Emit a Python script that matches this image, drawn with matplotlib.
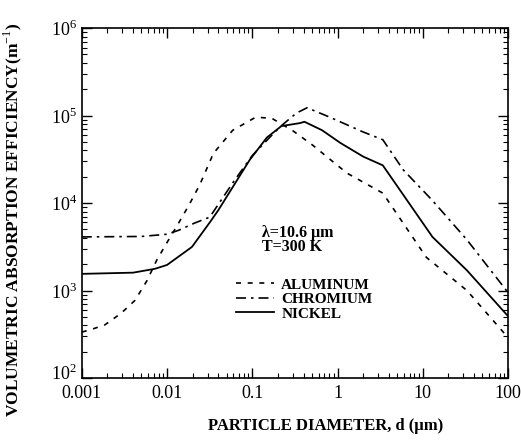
import numpy as np
import matplotlib.pyplot as plt
from matplotlib.ticker import LogLocator, NullFormatter, FixedLocator, FixedFormatter
from matplotlib.transforms import ScaledTranslation

plt.rcParams['font.family'] = ['Liberation Serif', 'DejaVu Serif']
plt.rcParams['mathtext.fontset'] = 'custom'
plt.rcParams['mathtext.rm'] = 'Liberation Serif'

# particle diameter (um) and volumetric absorption efficiency (1/m)
al_d = [0.001, 0.00124, 0.00186, 0.0029, 0.0042, 0.0058, 0.0076, 0.010, 0.0138, 0.018, 0.0243, 0.035, 0.059, 0.11, 0.17, 0.30, 0.51, 1.29, 3.4, 11, 33, 100]
al_v = [335, 354, 404, 550, 770, 1290, 2240, 3540, 6000, 9400, 16300, 37000, 68000, 96000, 93000, 67000, 46000, 22000, 13000, 2400, 1000, 290]

cr_d = [0.001, 0.005, 0.01, 0.0138, 0.021, 0.0317, 0.059, 0.10, 0.21, 0.33, 0.44, 0.81, 2.0, 3.4, 5.9, 13, 33, 100]
cr_v = [4100, 4150, 4400, 4900, 5900, 6900, 17000, 35000, 74000, 107000, 123000, 96000, 65000, 53000, 24000, 10700, 3800, 950]

ni_d = [0.001, 0.004, 0.0072, 0.01, 0.0196, 0.0317, 0.04, 0.093, 0.148, 0.22, 0.36, 0.41, 0.66, 1.07, 2.0, 3.4, 13, 33, 100]
ni_v = [1550, 1600, 1770, 1960, 3150, 6000, 8300, 31000, 56000, 76000, 82000, 85000, 68000, 49000, 34000, 27000, 4100, 1700, 510]

x_ticks = [0.001, 0.01, 0.1, 1, 10, 100]
x_labels = ['0.001', '0.01', '0.1', '1', '10', '100']
y_ticks = [1e2, 1e3, 1e4, 1e5, 1e6]
y_labels = ['$10^2$', '$10^3$', '$10^4$', '$10^5$', '$10^6$']

fig = plt.figure(figsize=(5.21, 4.40), dpi=100)
ax = fig.add_axes([0.157, 0.141, 0.818, 0.795])

ax.plot(al_d, al_v, color='black', lw=1.2, ls=(0, (3, 4)), label='ALUMINUM')
ax.plot(cr_d, cr_v, color='black', lw=1.2, ls=(0, (6, 3, 1.5, 3)), label='CHROMIUM')
ax.plot(ni_d, ni_v, color='black', lw=1.3, ls='-', label='NICKEL')

ax.set_xscale('log')
ax.set_yscale('log')
ax.set_xlim(0.001, 100)
ax.set_ylim(1e2, 1e6)

ax.xaxis.set_major_locator(FixedLocator(x_ticks))
ax.xaxis.set_major_formatter(FixedFormatter(x_labels))
ax.yaxis.set_major_locator(FixedLocator(y_ticks))
ax.yaxis.set_major_formatter(FixedFormatter(y_labels))
ax.xaxis.set_minor_locator(LogLocator(base=10, subs=np.arange(2, 10)))
ax.yaxis.set_minor_locator(LogLocator(base=10, subs=np.arange(2, 10)))
ax.xaxis.set_minor_formatter(NullFormatter())
ax.yaxis.set_minor_formatter(NullFormatter())

ax.tick_params(which='both', direction='in', top=True, right=True, labelsize=13)
ax.tick_params(axis='x', pad=5)
ax.tick_params(which='major', length=7, width=1)
ax.tick_params(which='minor', length=3.5, width=0.8)
for s in ax.spines.values():
    s.set_linewidth(1.2)

# lift the bottom y label a bit so it clears 0.001
lab = ax.get_yticklabels()[0]
lab.set_transform(lab.get_transform() + ScaledTranslation(0, 4/72, fig.dpi_scale_trans))

ax.text(0.423, 0.351, 'λ=10.6 μm\nT=300 K', transform=ax.transAxes, fontsize=11.5,
        fontweight='bold', linespacing=0.85, va='bottom')

leg = ax.legend(loc='upper left', bbox_to_anchor=(0.33, 0.325), frameon=False,
                handlelength=2.5, handletextpad=0.45, labelspacing=0.05,
                prop={'weight': 'bold', 'size': 11})

fig.text(0.625, 0.032, 'PARTICLE DIAMETER, d (μm)', ha='center', va='center',
         fontsize=12, fontweight='bold')
fig.text(0.025, 0.5, 'VOLUMETRIC ABSORPTION EFFICIENCY(m$^{-1}$)', rotation=90,
         ha='center', va='center', fontsize=12.5, fontweight='bold')

fig.savefig('out.png', dpi=100)
